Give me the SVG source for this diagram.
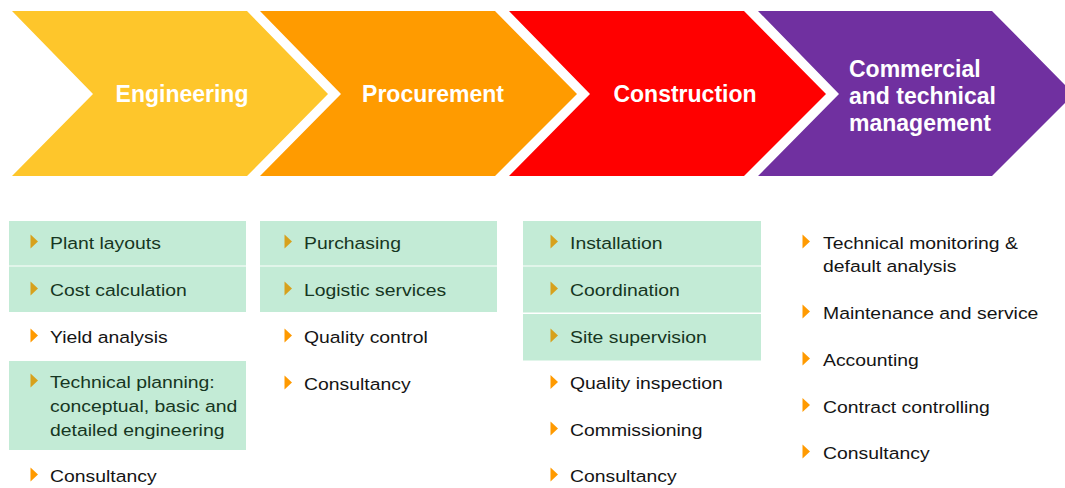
<svg xmlns="http://www.w3.org/2000/svg" width="1065" height="488" viewBox="0 0 1065 488">
  <style>
    .title { font-family: "Liberation Sans", Arial, sans-serif; font-weight: bold; font-size: 23px; fill: #ffffff; }
    .item { font-family: "Liberation Sans", Arial, sans-serif; font-size: 17px; }
    .on-box { fill: #163622; }
    .plain { fill: #141414; }
    .box { fill: #c3ebd6; }
    .bul-box { fill: #d7a11c; }
    .bul-plain { fill: #ff9a00; }
  </style>
  <defs>
    <!-- small right-pointing bullet, centred vertically on its origin -->
    <path id="tri" d="M-0.5,-7 L7,0 L-0.5,7 Z"/>
  </defs>

  <rect width="1065" height="488" fill="#ffffff"/>

  <!-- process chevrons -->
  <g id="stage-engineering">
    <path d="M12,11 L247,11 L328,94 L247,176 L12,176 L93,94 Z" fill="#fec62b"/>
    <text class="title" x="182" y="102" text-anchor="middle">Engineering</text>
  </g>
  <g id="stage-procurement">
    <path d="M260,11 L495,11 L577,94 L495,176 L260,176 L341,94 Z" fill="#ff9b00"/>
    <text class="title" x="433" y="102" text-anchor="middle">Procurement</text>
  </g>
  <g id="stage-construction">
    <path d="M509,11 L744,11 L826,94 L744,176 L509,176 L590,94 Z" fill="#ff0000"/>
    <text class="title" x="685" y="102" text-anchor="middle">Construction</text>
  </g>
  <g id="stage-management">
    <path d="M758,11 L992,11 L1074,94 L992,176 L758,176 L839,94 Z" fill="#7030a0"/>
    <text class="title" x="849" y="77">Commercial</text>
    <text class="title" x="849" y="104">and technical</text>
    <text class="title" x="849" y="131">management</text>
  </g>

  <!-- Engineering tasks -->
  <g id="list-engineering">
    <rect class="box" x="9" y="221" width="237" height="44.5"/>
    <rect class="box" x="9" y="266.5" width="237" height="45.5"/>
    <rect class="box" x="9" y="361" width="237" height="89"/>
    <use href="#tri" class="bul-box" x="31" y="241.5"/>
    <use href="#tri" class="bul-box" x="31" y="288.5"/>
    <use href="#tri" class="bul-plain" x="31" y="335.5"/>
    <use href="#tri" class="bul-box" x="31" y="380.5"/>
    <use href="#tri" class="bul-plain" x="31" y="474.5"/>
    <g class="item" transform="translate(50 0) scale(1.14 1)">
      <text class="on-box" y="249">Plant layouts</text>
      <text class="on-box" y="296">Cost calculation</text>
      <text class="plain" y="343">Yield analysis</text>
      <text class="on-box" y="388">Technical planning:</text>
      <text class="on-box" y="412">conceptual, basic and</text>
      <text class="on-box" y="436">detailed engineering</text>
      <text class="plain" y="482">Consultancy</text>
    </g>
  </g>

  <!-- Procurement tasks -->
  <g id="list-procurement">
    <rect class="box" x="260" y="221" width="237" height="44.5"/>
    <rect class="box" x="260" y="266.5" width="237" height="45.5"/>
    <use href="#tri" class="bul-box" x="285" y="241.5"/>
    <use href="#tri" class="bul-box" x="285" y="288.5"/>
    <use href="#tri" class="bul-plain" x="285" y="335.5"/>
    <use href="#tri" class="bul-plain" x="285" y="382.5"/>
    <g class="item" transform="translate(304 0) scale(1.14 1)">
      <text class="on-box" y="249">Purchasing</text>
      <text class="on-box" y="296">Logistic services</text>
      <text class="plain" y="343">Quality control</text>
      <text class="plain" y="390">Consultancy</text>
    </g>
  </g>

  <!-- Construction tasks -->
  <g id="list-construction">
    <rect class="box" x="523" y="221" width="238" height="44.5"/>
    <rect class="box" x="523" y="266.5" width="238" height="46"/>
    <rect class="box" x="523" y="314" width="238" height="46.5"/>
    <use href="#tri" class="bul-box" x="551" y="241.5"/>
    <use href="#tri" class="bul-box" x="551" y="288.5"/>
    <use href="#tri" class="bul-box" x="551" y="335.5"/>
    <use href="#tri" class="bul-plain" x="551" y="382"/>
    <use href="#tri" class="bul-plain" x="551" y="428.5"/>
    <use href="#tri" class="bul-plain" x="551" y="474.5"/>
    <g class="item" transform="translate(570 0) scale(1.14 1)">
      <text class="on-box" y="249">Installation</text>
      <text class="on-box" y="296">Coordination</text>
      <text class="on-box" y="343">Site supervision</text>
      <text class="plain" y="389.5">Quality inspection</text>
      <text class="plain" y="436">Commissioning</text>
      <text class="plain" y="482">Consultancy</text>
    </g>
  </g>

  <!-- Commercial and technical management tasks -->
  <g id="list-management">
    <use href="#tri" class="bul-plain" x="803" y="241.5"/>
    <use href="#tri" class="bul-plain" x="803" y="311.5"/>
    <use href="#tri" class="bul-plain" x="803" y="358.5"/>
    <use href="#tri" class="bul-plain" x="803" y="405"/>
    <use href="#tri" class="bul-plain" x="803" y="451.5"/>
    <g class="item" transform="translate(823 0) scale(1.14 1)">
      <text class="plain" y="249">Technical monitoring &amp;</text>
      <text class="plain" y="272.5">default analysis</text>
      <text class="plain" y="319">Maintenance and service</text>
      <text class="plain" y="366">Accounting</text>
      <text class="plain" y="413">Contract controlling</text>
      <text class="plain" y="459">Consultancy</text>
    </g>
  </g>
</svg>
